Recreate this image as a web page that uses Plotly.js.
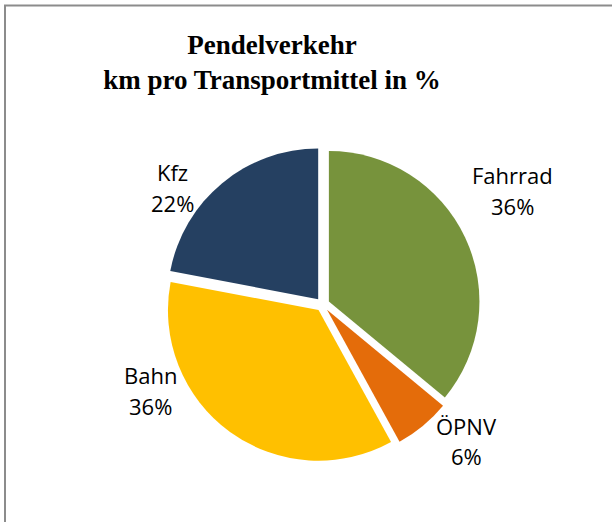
<!DOCTYPE html>
<html>
<head>
<meta charset="utf-8">
<script src="https://cdn.plot.ly/plotly-3.0.1.min.js"></script>
<style>html,body{margin:0;padding:0;background:#fff;}#chart{width:612px;height:522px;}</style>
</head>
<body>
<div id="chart"></div>
<script>
const categories = ["Fahrrad", "ÖPNV", "Bahn", "Kfz"];
const values = [36, 6, 36, 22];
const colors = ["#77933C", "#E46C0A", "#FFC000", "#254061"];
const titleText = "Pendelverkehr<br>km pro Transportmittel in %";

// label anchor positions in pixels (layout only): x centre, y of name line, y of percent line
const labelPos = [
  {x: 512, y1: 175, y2: 206},
  {x: 466, y1: 426, y2: 455.5},
  {x: 150, y1: 374.5, y2: 406},
  {x: 172, y1: 171.5, y2: 203}
];

const W = 612, H = 522;
const total = values.reduce((a, b) => a + b, 0);
const annotations = [];
categories.forEach((c, i) => {
  const p = labelPos[i];
  const common = {xref: "paper", yref: "paper", xanchor: "center", yanchor: "middle",
    showarrow: false, font: {family: "Open Sans", size: 22, color: "#000"}};
  annotations.push(Object.assign({text: c, x: p.x / W, y: 1 - p.y1 / H}, common));
  annotations.push(Object.assign({text: Math.round(values[i] / total * 100) + "%", x: p.x / W, y: 1 - p.y2 / H}, common));
});

const trace = {
  type: "pie",
  labels: categories,
  values: values,
  sort: false,
  direction: "clockwise",
  rotation: 0,
  pull: values.map(() => 0.046),
  marker: {colors: colors, line: {width: 0}},
  textinfo: "none",
  hoverinfo: "none",
  showlegend: false,
  domain: {x: [164.6 / W, 480.6 / W], y: [60 / H, 375 / H]}
};

const layout = {
  width: W, height: H,
  margin: {l: 0, r: 0, t: 0, b: 0},
  paper_bgcolor: "#fff",
  title: {
    text: titleText,
    x: 272 / W, xanchor: "center",
    y: 1 - 54 / H, yanchor: "middle",
    font: {family: "Liberation Serif", size: 27, color: "#000", weight: "bold"}
  },
  annotations: annotations,
  shapes: [{
    type: "rect", xref: "paper", yref: "paper",
    x0: 5 / W, x1: 1.2, y0: -0.2, y1: 1 - 5.5 / H,
    line: {color: "#8c8c8c", width: 2}, fillcolor: "rgba(0,0,0,0)"
  }]
};

Plotly.newPlot("chart", [trace], layout, {displayModeBar: false, staticPlot: true});
</script>
</body>
</html>
